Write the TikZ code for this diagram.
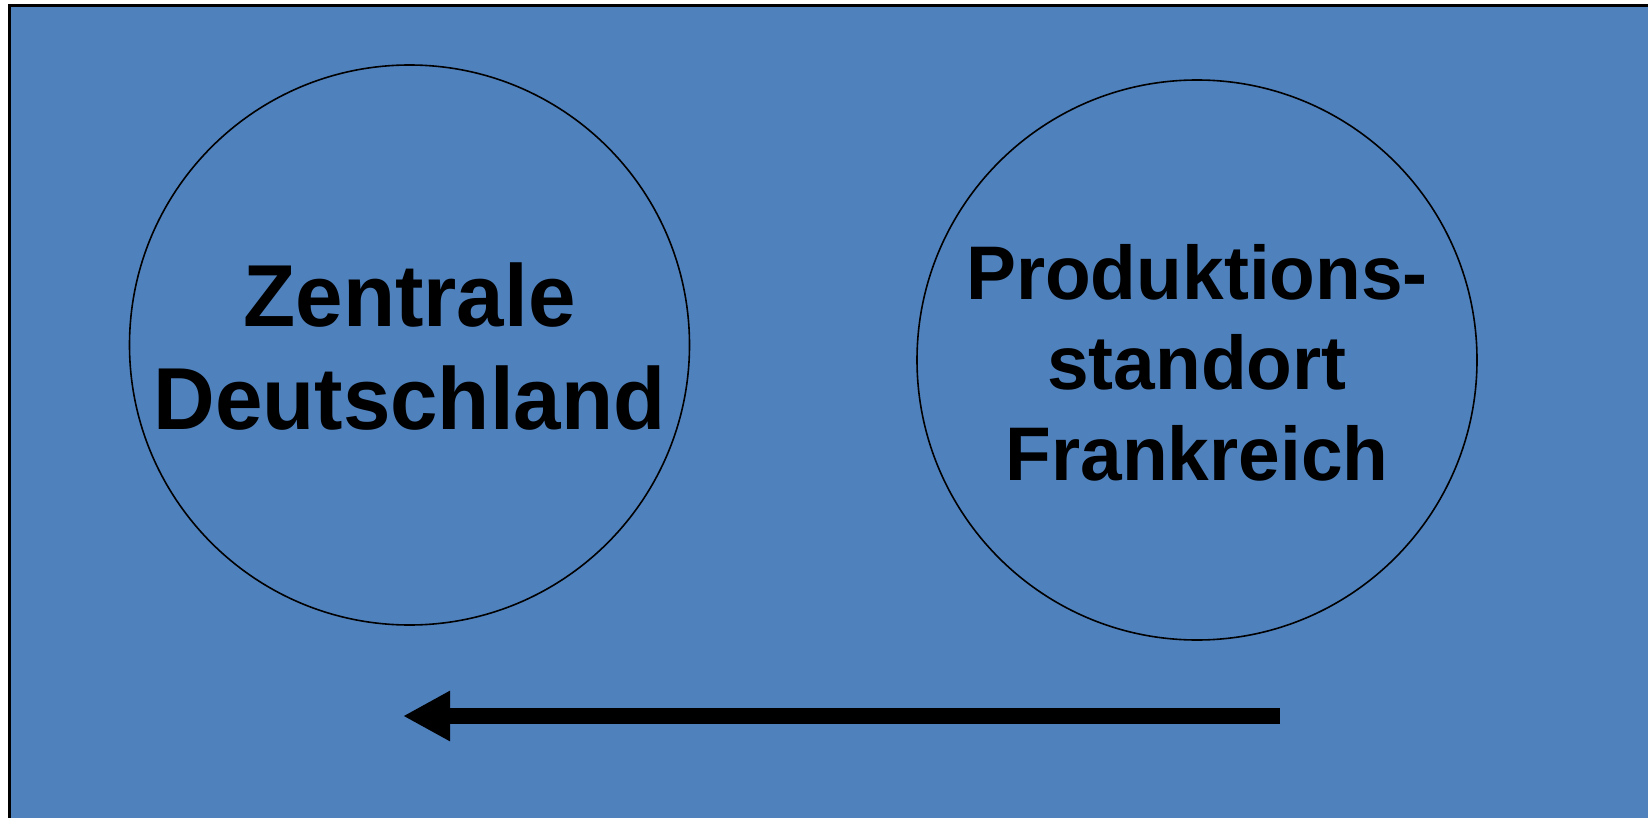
\documentclass[tikz,border=0pt]{standalone}
\usepackage{fontspec}
\setmainfont{Liberation Sans}
\usetikzlibrary{arrows.meta}
\definecolor{bgblue}{RGB}{79,129,189}
\tikzset{
  place/.style={circle, draw=black, line width=1.6pt, minimum size=560pt, inner sep=0pt},
  placetext/.style={inner sep=0pt, align=center, font=\bfseries},
  flow/.style={line width=16.5pt, -{Triangle[length=47pt,width=47pt]}}
}
\begin{document}
\begin{tikzpicture}[x=1pt,y=-1pt]
\useasboundingbox (0,0) rectangle (1648,818);
\fill[white] (0,0) rectangle (1648,818);
\begin{scope}
\clip (0,0) rectangle (1648,818);
\filldraw[fill=bgblue, draw=black, line width=2.5pt] (9.3,5.3) rectangle (1670,840);
\end{scope}
\node[place] (zentrale) at (409.5,345) {};
\node[placetext, font=\bfseries\fontsize{88}{103.3}\selectfont\addfontfeature{FakeStretch=0.97}] (zentraletext) at ([yshift=-1.8pt]zentrale.center) {Zentrale\\Deutschland};
\node[place] (produktion) at (1197,360) {};
\node[placetext, font=\bfseries\fontsize{76}{90.8}\selectfont\addfontfeature{FakeStretch=0.985}] (produktiontext) at ([yshift=-2.8pt]produktion.center) {Produktions-\\standort\\Frankreich};
\coordinate (arrowstart) at (1280,716);
\coordinate (arrowend) at (403,716);
\draw[flow] (arrowstart) -- (arrowend);
\end{tikzpicture}
\end{document}
